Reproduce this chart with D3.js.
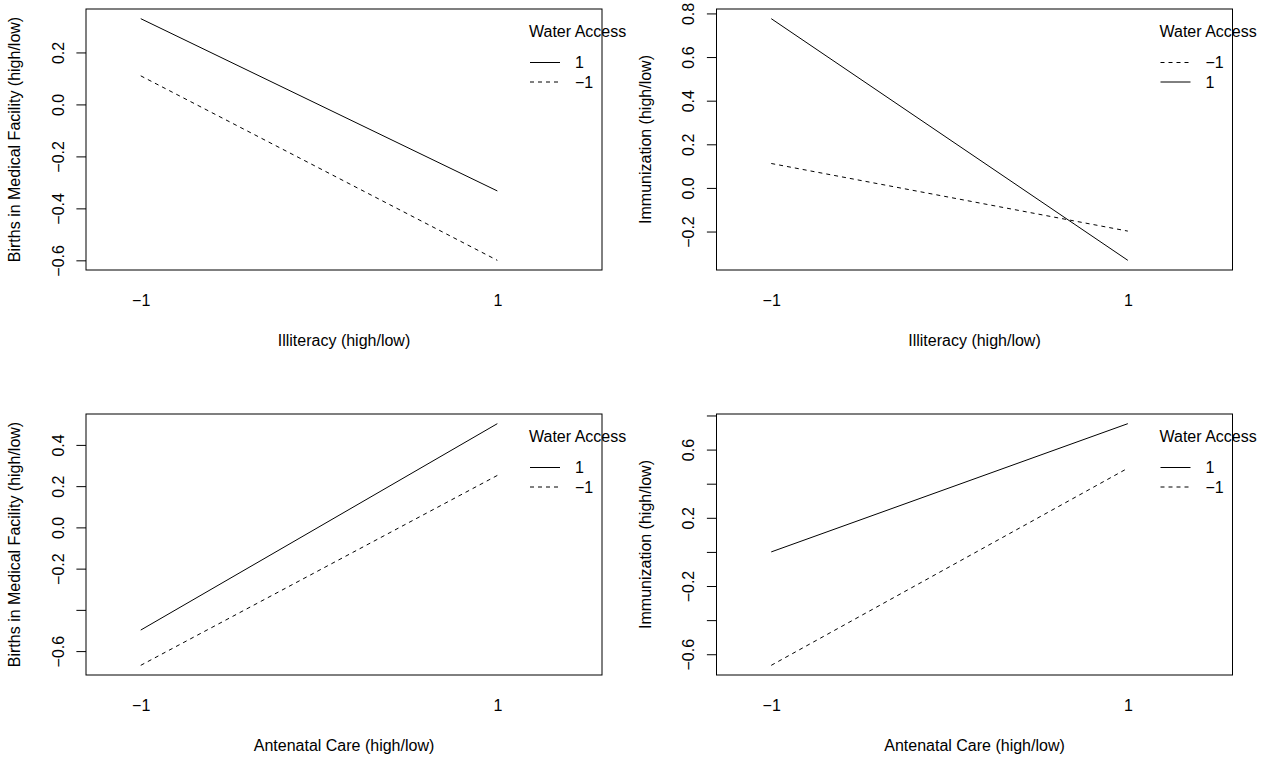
<!DOCTYPE html>
<html>
<head>
<meta charset="UTF-8">
<title>Interaction plots</title>
<script src="https://cdn.jsdelivr.net/npm/d3@7"></script>
<style>
  body { margin: 0; background: #fff; }
  svg text { font-family: "Liberation Sans", Arial, Helvetica, sans-serif; font-size: 16px; fill: #000; }
</style>
</head>
<body>
<div id="app"></div>
<script>
    // x levels and trace levels (Water Access)
    var xLevels = [-1, 1];
    var traceLevels = ["1", "-1"];

    // cell means, one array per trace level: [at x=-1, at x=1]
    var illitBirthsHigh = [0.330, -0.333];
    var illitBirthsLow  = [0.110, -0.600];
    var illitImmunHigh  = [0.776, -0.332];
    var illitImmunLow   = [0.112, -0.198];
    var anteBirthsHigh  = [-0.498, 0.503];
    var anteBirthsLow   = [-0.669, 0.252];
    var anteImmunHigh   = [0.000, 0.752];
    var anteImmunLow    = [-0.665, 0.491];

    // y ticks and their labels ("" = label dropped, as R does on overlap)
    var yTicksA = [-0.6, -0.4, -0.2, 0.0, 0.2];
    var yLabelsA = ["\u22120.6", "\u22120.4", "\u22120.2", "0.0", "0.2"];
    var yTicksB = [-0.2, 0.0, 0.2, 0.4, 0.6, 0.8];
    var yLabelsB = ["\u22120.2", "0.0", "0.2", "0.4", "0.6", "0.8"];
    var yTicksC = [-0.6, -0.4, -0.2, 0.0, 0.2, 0.4];
    var yLabelsC = ["\u22120.6", "", "\u22120.2", "0.0", "0.2", "0.4"];
    var yTicksD = [-0.6, -0.4, -0.2, 0.0, 0.2, 0.4, 0.6, 0.8];
    var yLabelsD = ["\u22120.6", "", "\u22120.2", "", "0.2", "", "0.6", ""];
    var xTickLabels = ["\u22121", "1"];

    var panels = [
        {left: 86, top: 9, xlab: "Illiteracy (high/low)", ylab: "Births in Medical Facility (high/low)",
         series: [illitBirthsHigh, illitBirthsLow], ticks: yTicksA, labels: yLabelsA},
        {left: 716.5, top: 9, xlab: "Illiteracy (high/low)", ylab: "Immunization (high/low)",
         series: [illitImmunHigh, illitImmunLow], ticks: yTicksB, labels: yLabelsB},
        {left: 86, top: 414, xlab: "Antenatal Care (high/low)", ylab: "Births in Medical Facility (high/low)",
         series: [anteBirthsHigh, anteBirthsLow], ticks: yTicksC, labels: yLabelsC},
        {left: 716.5, top: 414, xlab: "Antenatal Care (high/low)", ylab: "Immunization (high/low)",
         series: [anteImmunHigh, anteImmunLow], ticks: yTicksD, labels: yLabelsD}
    ];

    var W = 516, H = 261;
    var dashFor = {"1": null, "-1": "4,4"};

    var svg = d3.select('#app').append('svg')
        .attr('width', 1275).attr('height', 761);
    svg.append('rect').attr('width', 1275).attr('height', 761).attr('fill', '#fff');

    panels.forEach(function(p) {
        var g = svg.append('g').attr('transform', 'translate(' + p.left + ',' + p.top + ')');

        // x range like R interaction.plot: levels at 1..2, extended for legend, then 4% pad
        var x = d3.scaleLinear().domain([-1.307, 1.587]).range([0, W]);

        var all = d3.merge(p.series);
        var ext = d3.extent(all);
        var pad = (ext[1] - ext[0]) * 0.04;
        var y = d3.scaleLinear().domain([ext[0] - pad, ext[1] + pad]).range([H, 0]);

        // lines
        var line = d3.line().x(function(d, i) { return x(xLevels[i]); }).y(function(d) { return y(d); });
        p.series.forEach(function(s, i) {
            g.append('path')
                .attr('d', line(s))
                .attr('fill', 'none')
                .attr('stroke', '#000')
                .attr('stroke-width', 1)
                .attr('stroke-dasharray', dashFor[traceLevels[i]]);
        });

        // y axis
        var yAxis = g.append('g').call(
            d3.axisLeft(y).tickValues(p.ticks)
                .tickFormat(function(d, i) { return p.labels[i]; })
                .tickSize(9.6).tickSizeOuter(0));
        yAxis.select('.domain').remove();
        yAxis.selectAll('line').attr('stroke', '#000');
        yAxis.selectAll('text')
            .attr('transform', 'rotate(-90)')
            .attr('x', 0).attr('y', -22.5).attr('dy', null)
            .attr('text-anchor', 'middle')
            .style('font-size', '16px').style('font-family', null);
        yAxis.attr('font-size', null).attr('font-family', null);

        // x labels (no ticks)
        var xAxis = g.append('g').attr('transform', 'translate(0,' + H + ')').call(
            d3.axisBottom(x).tickValues(xLevels)
                .tickFormat(function(d, i) { return xTickLabels[i]; })
                .tickSize(0));
        xAxis.select('.domain').remove();
        xAxis.selectAll('text').attr('y', 35.5).attr('dy', null);
        xAxis.attr('font-size', null).attr('font-family', null);

        // box
        g.append('rect').attr('x', 0).attr('y', 0).attr('width', W).attr('height', H)
            .attr('fill', 'none').attr('stroke', '#000').attr('stroke-width', 1);

        // axis titles
        g.append('text').attr('x', W / 2).attr('y', H + 76)
            .attr('text-anchor', 'middle').text(p.xlab);
        g.append('text')
            .attr('transform', 'translate(-66,' + (H / 2) + ') rotate(-90)')
            .attr('text-anchor', 'middle').text(p.ylab);

        // legend, ordered by value at the last x level (descending), as R does
        var order = d3.range(p.series.length).sort(function(a, b) {
            return p.series[b][1] - p.series[a][1];
        });
        var leg = g.append('g').attr('transform', 'translate(' + (W - 73) + ',0)');
        leg.append('text').attr('x', 0).attr('y', 28).text('Water Access');
        order.forEach(function(k, j) {
            var ly = 53.5 + j * 19.5;
            leg.append('line').attr('x1', 1).attr('x2', 31).attr('y1', ly).attr('y2', ly)
                .attr('stroke', '#000').attr('stroke-width', 1)
                .attr('stroke-dasharray', dashFor[traceLevels[k]]);
            leg.append('text').attr('x', 46).attr('y', ly + 5.8)
                .text(traceLevels[k] === "-1" ? "\u22121" : traceLevels[k]);
        });
    });
</script>
</body>
</html>
